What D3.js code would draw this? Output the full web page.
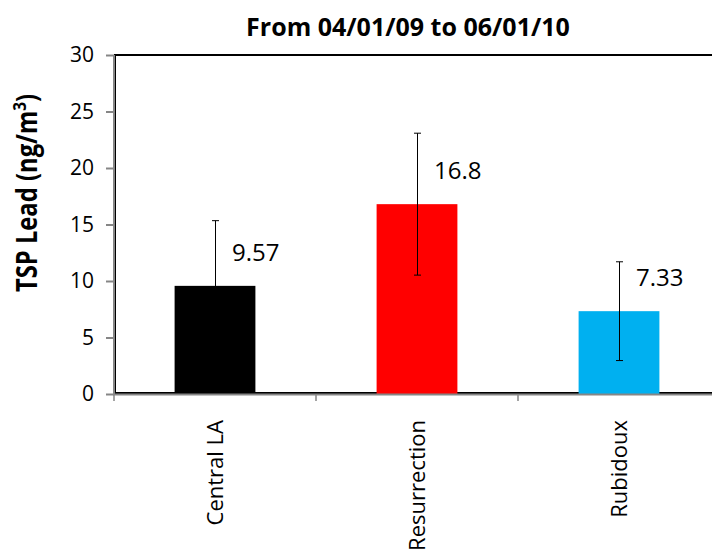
<!DOCTYPE html>
<html><head><meta charset="utf-8">
<script src="https://cdn.jsdelivr.net/npm/d3@7"></script>
<style>body{margin:0;background:#fff}svg{display:block}text{font-family:"Open Sans",sans-serif;fill:#000}</style>
</head><body>
<svg id="c" width="712" height="550"></svg>
<script>
const categories = ["Central LA", "Resurrection", "Rubidoux"];
const values = [9.57, 16.8, 7.33];
const errors = [5.77, 6.28, 4.37];
const labels = ["9.57", "16.8", "7.33"];
const colors = ["#000000", "#FF0000", "#00B0F0"];
const yTicks = [0, 5, 10, 15, 20, 25, 30];
const title = "From 04/01/09 to 06/01/10";

const svg = d3.select("#c");
const L = 114, R = 720, T = 55, B = 394;
const x = d3.scaleBand().domain(categories).range([L, R]).paddingInner(0.6).paddingOuter(0.3);
const y = d3.scaleLinear().domain([0, 30]).range([B, T]);

// plot border
svg.append("rect").attr("x", L + 1).attr("y", T).attr("width", R - L).attr("height", B - T - 1)
  .attr("fill", "none").attr("stroke", "#000").attr("stroke-width", 2);

// bars
svg.selectAll("rect.bar").data(categories).join("rect").attr("class", "bar")
  .attr("x", d => x(d)).attr("width", x.bandwidth())
  .attr("y", (d, i) => y(values[i])).attr("height", (d, i) => y(0) - y(values[i]))
  .attr("fill", (d, i) => colors[i]);

// error bars
const eg = svg.append("g").attr("stroke", "#000").attr("stroke-width", 1);
categories.forEach((c, i) => {
  const cx = Math.round(x(c) + x.bandwidth() / 2) + 0.5;
  const y1 = y(values[i] + errors[i]), y2 = y(values[i] - errors[i]);
  eg.append("line").attr("x1", cx).attr("x2", cx).attr("y1", y1).attr("y2", y2);
  eg.append("line").attr("x1", cx - 3.5).attr("x2", cx + 3.5).attr("y1", y1).attr("y2", y1);
  eg.append("line").attr("x1", cx - 3.5).attr("x2", cx + 3.5).attr("y1", y2).attr("y2", y2);
});

// value labels
svg.selectAll("text.val").data(categories).join("text").attr("class", "val")
  .attr("x", d => x(d) + x.bandwidth() / 2 + 17)
  .attr("y", (d, i) => y(values[i]) - 25)
  .attr("font-size", 24).text((d, i) => labels[i]);

// y axis
const ya = svg.append("g").attr("transform", `translate(${L},0)`)
  .call(d3.axisLeft(y).tickValues(yTicks).tickSize(8).tickPadding(12));
ya.selectAll("path,line").attr("stroke", "#868686").attr("stroke-width", 2);
ya.select("path").attr("d", `M0,${T}V${B + 1}`);
ya.selectAll("text").attr("font-size", 21).attr("font-family", "Open Sans").attr("fill", "#000");

// x axis
const xa = svg.append("g");
xa.append("line").attr("x1", L - 1).attr("x2", R).attr("y1", B + 0.5).attr("y2", B + 0.5)
  .attr("stroke", "#868686").attr("stroke-width", 2);
const step = x.step();
[0, 1, 2, 3].forEach(i => {
  xa.append("line").attr("x1", L + i * step).attr("x2", L + i * step).attr("y1", B).attr("y2", B + 7)
    .attr("stroke", "#868686").attr("stroke-width", 1.5);
});
svg.selectAll("text.cat").data(categories).join("text").attr("class", "cat")
  .attr("transform", d => `translate(${x(d) + x.bandwidth() / 2 + 8},420) rotate(-90)`)
  .attr("text-anchor", "end").attr("font-size", 22).text(d => d);

// title
svg.append("text").attr("x", 408).attr("y", 36).attr("text-anchor", "middle")
  .attr("font-size", 25).attr("font-weight", "bold").text(title);

// y title
const yt = svg.append("text").attr("transform", "translate(37,193) rotate(-90) scale(0.85,1)")
  .attr("text-anchor", "middle").attr("font-size", 28).attr("font-weight", "bold");
yt.append("tspan").text("TSP Lead (ng/m");
yt.append("tspan").text("3").attr("font-size", 18).attr("dy", -11);
yt.append("tspan").text(")").attr("dy", 11);
</script>
</body></html>
